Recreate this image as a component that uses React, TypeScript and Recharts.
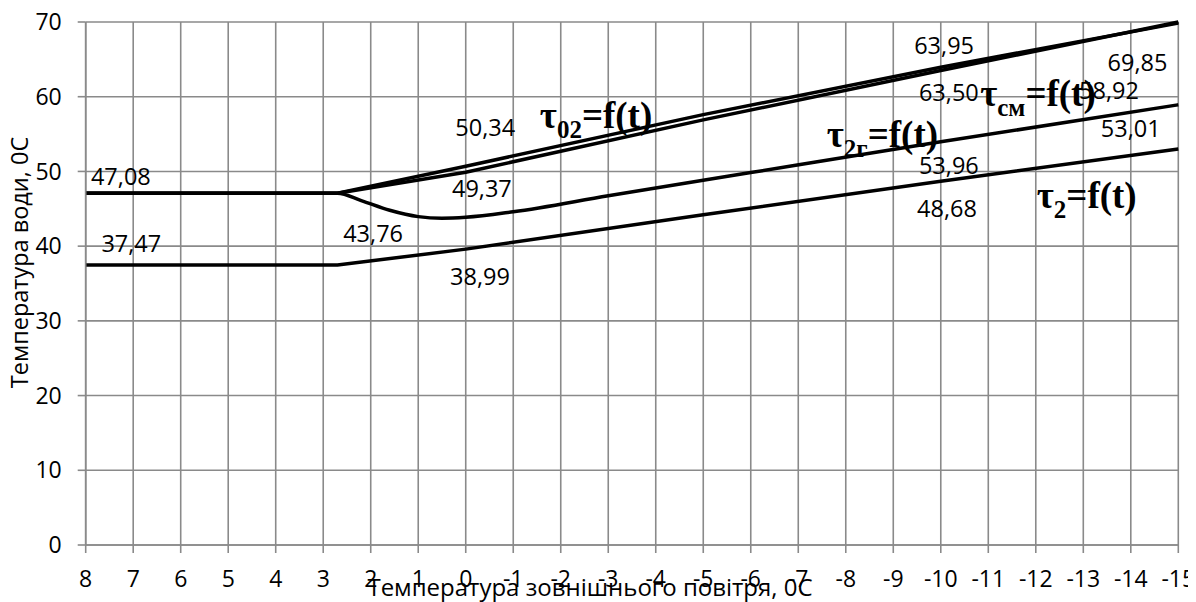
import React from 'react';
import { ComposedChart, Line, XAxis, YAxis, CartesianGrid, Scatter } from 'recharts';

// Outdoor air temperature (x axis ticks)
const xTicks = [8, 7, 6, 5, 4, 3, 2, 1, 0, -1, -2, -3, -4, -5, -6, -7, -8, -9, -10, -11, -12, -13, -14, -15];
const yTicks = [0, 10, 20, 30, 40, 50, 60, 70];

// tau02 (upper line of the top pair)
const tau02T = [8, 2.7, 0, -5, -10, -15];
const tau02V = [47.08, 47.08, 50.7, 57.6, 63.95, 69.85];

// tau_sm (lower line of the top pair)
const tauSmT = [8, 2.7, 0, -5, -10, -15];
const tauSmV = [47.08, 47.08, 49.9, 56.9, 63.5, 70.0];

// tau2g (middle curve with a dip)
const tau2gT = [8, 2.7, 2.2, 1.6, 1, 0.5, 0, -1, -3, -6, -10, -15];
const tau2gV = [47.08, 47.08, 46.1, 44.8, 43.95, 43.74, 43.86, 44.6, 46.75, 49.85, 53.96, 58.92];

// tau2 (bottom line)
const tau2T = [8, 2.7, 0, -5, -10, -15];
const tau2V = [37.47, 37.47, 39.6, 44.2, 48.68, 53.01];

// value labels (text and anchor in data units)
const valueLabelText = ['47,08', '37,47', '43,76', '38,99', '49,37', '50,34', '63,95', '63,50', '53,96', '48,68', '69,85', '58,92', '53,01'];
const valueLabelT = [7.26, 7.04, 1.95, -0.3, -0.34, -0.41, -10.07, -10.17, -10.17, -10.13, -14.14, -13.54, -14.0];
const valueLabelV = [49.42, 40.46, 41.79, 36.03, 47.78, 55.99, 66.93, 60.68, 50.86, 45.17, 64.69, 60.9, 55.77];

// curve name labels
const curveSub = ['02', '2г', 'см', '2'];
const curveLabelT = [-1.56, -7.6, -10.83, -12.02];
const curveLabelV = [55.82, 53.31, 58.76, 45.07];

const toPts = (ts: number[], vs: number[]) => ts.map((t, i) => ({ t, v: vs[i] }));

const valueLabels = valueLabelText.map((text, i) => ({ t: valueLabelT[i], v: valueLabelV[i], text }));
const curveLabels = curveSub.map((sub, i) => ({ t: curveLabelT[i], v: curveLabelV[i], sub }));

const FONT = "'Open Sans', sans-serif";
const GRID = '#8a8a8a';

const ValueLabel = (props: any) => {
  const { cx, cy, payload } = props;
  return (
    <text x={cx} y={cy} textAnchor="middle" dominantBaseline="central" fontFamily={FONT} fontSize={23.5} fill="#000">
      {payload.text}
    </text>
  );
};

const CurveLabel = (props: any) => {
  const { cx, cy, payload } = props;
  return (
    <text x={cx} y={cy} textAnchor="start" fontFamily="'Liberation Serif', 'Times New Roman', serif" fontWeight="bold" fontSize={37} fill="#000">
      <tspan>τ</tspan>
      <tspan fontSize={25} dy={10}>{payload.sub}</tspan>
      <tspan dy={-10}>=f(t)</tspan>
    </text>
  );
};

export default function App() {
  return (
    <div style={{ width: 1188, height: 594 }}>
      <ComposedChart width={1188} height={594} margin={{ top: 14, right: 17.7, bottom: 0, left: 0 }}>
        <CartesianGrid stroke={GRID} strokeWidth={1.6} />
        <XAxis
          type="number"
          dataKey="t"
          domain={[-15, 8]}
          reversed
          ticks={xTicks}
          interval={0}
          height={57}
          tickSize={8}
          tickMargin={18}
          axisLine={{ stroke: GRID, strokeWidth: 1.6 }}
          tickLine={{ stroke: GRID, strokeWidth: 1.6 }}
          tick={{ fill: '#000', fontSize: 23, fontFamily: FONT }}
          label={{ value: 'Температура зовнішнього повітря, 0С', position: 'insideBottom', offset: 6, dx: -42, fill: '#000', fontSize: 24, fontFamily: FONT }}
        />
        <YAxis
          type="number"
          domain={[0, 70]}
          ticks={yTicks}
          interval={0}
          width={77.7}
          tickSize={8}
          tickMargin={16}
          axisLine={{ stroke: GRID, strokeWidth: 1.6 }}
          tickLine={{ stroke: GRID, strokeWidth: 1.6 }}
          tick={{ fill: '#000', fontSize: 23, fontFamily: FONT }}
          label={{ value: 'Температура води, 0С', angle: -90, position: 'insideLeft', offset: 12, dy: -21, fill: '#000', fontSize: 23.5, fontFamily: FONT, style: { textAnchor: 'middle' } }}
        />
        <Line data={toPts(tau02T, tau02V)} dataKey="v" type="linear" stroke="#000" strokeWidth={3.5} dot={false} isAnimationActive={false} />
        <Line data={toPts(tauSmT, tauSmV)} dataKey="v" type="linear" stroke="#000" strokeWidth={3.5} dot={false} isAnimationActive={false} />
        <Line data={toPts(tau2gT, tau2gV)} dataKey="v" type="monotone" stroke="#000" strokeWidth={3.5} dot={false} isAnimationActive={false} />
        <Line data={toPts(tau2T, tau2V)} dataKey="v" type="linear" stroke="#000" strokeWidth={3.5} dot={false} isAnimationActive={false} />
        <Scatter data={valueLabels} dataKey="v" shape={ValueLabel} isAnimationActive={false} />
        <Scatter data={curveLabels} dataKey="v" shape={CurveLabel} isAnimationActive={false} />
      </ComposedChart>
    </div>
  );
}
